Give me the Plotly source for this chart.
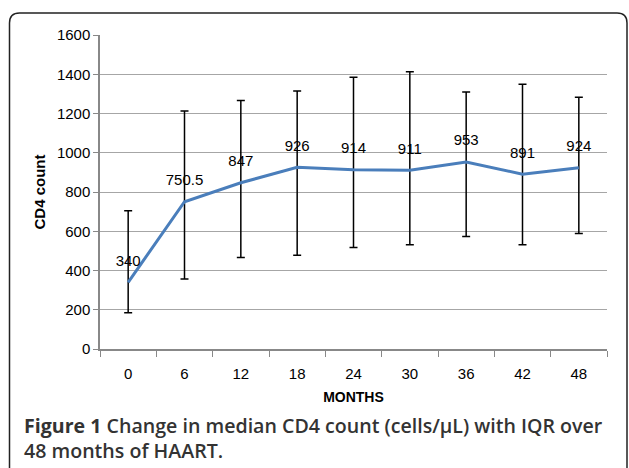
import plotly.graph_objects as go

months = ["0", "6", "12", "18", "24", "30", "36", "42", "48"]
median = [340, 750.5, 847, 926, 914, 911, 953, 891, 924]
q3 = [705, 1213, 1266, 1315, 1385, 1413, 1310, 1349, 1283]
q1 = [185, 357, 466, 478, 517, 531, 573, 531, 589]
labels = ["340", "750.5", "847", "926", "914", "911", "953", "891", "924"]

W, H = 629, 468
L, R, T, B = 100, 22, 35, 119
pw, ph = W - L - R, H - T - B

def px(x):
    return (x - L) / pw

def py(y):
    return (H - B - y) / ph

fig = go.Figure()
fig.add_trace(go.Scatter(
    x=months, y=median, mode="lines+markers+text",
    line=dict(color="#4a7ebb", width=3),
    marker=dict(size=19, color="rgba(0,0,0,0)"),
    text=labels, textposition="top center",
    textfont=dict(family="Liberation Sans, Arial", size=15, color="#000"),
    error_y=dict(type="data", symmetric=False,
                 array=[a - m for a, m in zip(q3, median)],
                 arrayminus=[m - b for m, b in zip(median, q1)],
                 color="#000", thickness=1.5, width=4),
    cliponaxis=False, showlegend=False, hoverinfo="skip",
))

# rounded frame
x0, x1, y0, y1 = px(9.5), px(627), py(13), py(480)
rx, ry = 10 / pw, 10 / ph
path = (f"M {x0},{y1} L {x0},{y0 - ry} Q {x0},{y0} {x0 + rx},{y0} "
        f"L {x1 - rx},{y0} Q {x1},{y0} {x1},{y0 - ry} L {x1},{y1}")
fig.add_shape(type="path", path=path, xref="paper", yref="paper",
              line=dict(color="#222", width=1.5))

fig.add_annotation(
    text="<b>Figure 1</b> Change in median CD4 count (cells/μL) with IQR over<br>48 months of HAART.",
    xref="paper", yref="paper", x=px(22), y=py(410), xanchor="left", yanchor="top",
    align="left", showarrow=False,
    font=dict(family="Open Sans", size=19.6, color="#333", weight=600),
)

fig.update_layout(
    width=W, height=H, margin=dict(l=L, r=R, t=T, b=B),
    paper_bgcolor="white", plot_bgcolor="white",
    font=dict(family="Liberation Sans, Arial", size=15, color="#000"),
    xaxis=dict(type="category", tickson="boundaries", ticks="outside", ticklen=6,
               range=[-0.5, 8.5], fixedrange=True,
               tickcolor="#888", showline=True, linecolor="#888", linewidth=1.5,
               showgrid=False, ticklabelstandoff=10,
               title=dict(text="<b>MONTHS</b>", font=dict(size=14), standoff=11),
               tickfont=dict(size=15)),
    yaxis=dict(range=[0, 1600], dtick=200, ticks="outside", ticklen=5,
               tickcolor="#888", showline=True, linecolor="#888", linewidth=1.5,
               gridcolor="#a6a6a6", gridwidth=1, zeroline=False, fixedrange=True,
               title=dict(text="<b>CD4 count</b>", font=dict(size=15), standoff=8),
               tickfont=dict(size=15)),
)

fig.write_html("out.html", config={"displayModeBar": False},
               post_script="document.body.style.margin='0';")
